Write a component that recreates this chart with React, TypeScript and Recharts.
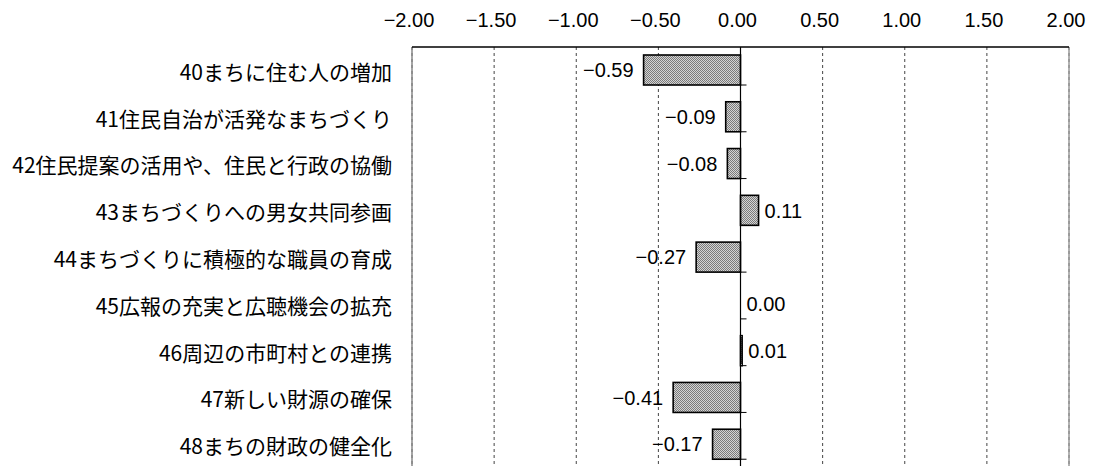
import { BarChart, Bar, XAxis, YAxis, CartesianGrid, ReferenceLine, LabelList } from "recharts"

const categories = [
  "40まちに住む人の増加",
  "41住民自治が活発なまちづくり",
  "42住民提案の活用や、住民と行政の協働",
  "43まちづくりへの男女共同参画",
  "44まちづくりに積極的な職員の育成",
  "45広報の充実と広聴機会の拡充",
  "46周辺の市町村との連携",
  "47新しい財源の確保",
  "48まちの財政の健全化",
]
const values = [-0.59, -0.09, -0.08, 0.11, -0.27, 0.0, 0.01, -0.41, -0.17]
const xTicks = [-2, -1.5, -1, -0.5, 0, 0.5, 1, 1.5, 2]

const data = categories.map((name, i) => ({ name, value: values[i] }))

const numFont = "'Liberation Sans', Arial, sans-serif"
const jpFont = "'Noto Sans CJK JP', sans-serif"

function fmt(v: number) {
  const s = Math.abs(v).toFixed(2)
  return v < 0 ? "\u2212" + s : s
}

// 棒 + ゼロ軸上の区切り目盛り
function PatternBar(props: any) {
  const { x, y, width, height, payload, background } = props
  const v = payload?.value ?? 0
  const left = Math.min(x, x + width)
  const w = Math.abs(width)
  const zeroX = v < 0 ? left + w : left
  const tickY = background ? background.y + background.height : null
  return (
    <g>
      {w > 0 && (
        <rect x={left} y={y} width={w} height={height} fill="url(#dotFill)" stroke="#000" strokeWidth={1.6} />
      )}
      {tickY != null && <line x1={zeroX} x2={zeroX + 6} y1={tickY} y2={tickY} stroke="#000" strokeWidth={1} />}
    </g>
  )
}

function ValueLabel(props: any) {
  const { x, y, width, height, value } = props
  const left = Math.min(x, x + width)
  const right = Math.max(x, x + width)
  const cy = y + height / 2
  const neg = value < 0
  return (
    <text
      x={neg ? left - 10 : right + 6}
      y={cy}
      dy="0.36em"
      textAnchor={neg ? "end" : "start"}
      fontSize={20}
      fontFamily={numFont}
      fill="#000"
    >
      {fmt(value)}
    </text>
  )
}

function CategoryTick(props: any) {
  const { x, y, payload } = props
  return (
    <text x={x} y={y} dy="0.45em" textAnchor="end" fontSize={21} fontFamily={jpFont} fill="#000">
      {payload.value}
    </text>
  )
}

export default function App() {
  return (
    <div style={{ position: "absolute", left: 0, top: 0, width: 1101, height: 466, overflow: "hidden", background: "#fff" }}>
      <svg width={0} height={0} style={{ position: "absolute" }}>
        <defs>
          <pattern id="dotFill" width={2} height={2} patternUnits="userSpaceOnUse">
            <rect width={2} height={2} fill="#d4d4d4" />
            <rect width={1} height={1} fill="#7a7a7a" />
            <rect x={1} y={1} width={1} height={1} fill="#7a7a7a" />
          </pattern>
        </defs>
      </svg>
      <BarChart
        width={1101}
        height={470}
        data={data}
        layout="vertical"
        margin={{ top: 0, right: 32, bottom: 2, left: 0 }}
        barSize={30}
      >
        <CartesianGrid horizontal={false} stroke="#444" strokeDasharray="3 3" />
        <XAxis
          type="number"
          orientation="top"
          domain={[-2, 2]}
          ticks={xTicks}
          height={47}
          tickFormatter={fmt}
          tickLine={false}
          tickSize={0}
          tickMargin={20}
          axisLine={{ stroke: "#000", strokeWidth: 1.5 }}
          tick={{ fontSize: 20, fontFamily: numFont, fill: "#000", dx: -3 }}
          interval={0}
        />
        <YAxis
          type="category"
          dataKey="name"
          width={412}
          tickLine={false}
          tickSize={0}
          tickMargin={20}
          axisLine={false}
          tick={<CategoryTick />}
          interval={0}
        />
        <ReferenceLine x={-2} stroke="#888" strokeWidth={1.5} />
        <ReferenceLine x={2} stroke="#999" strokeWidth={1.5} />
        <ReferenceLine x={0} stroke="#000" strokeWidth={1.2} />
        <Bar dataKey="value" shape={<PatternBar />} isAnimationActive={false}>
          <LabelList dataKey="value" content={<ValueLabel />} />
        </Bar>
      </BarChart>
    </div>
  )
}
